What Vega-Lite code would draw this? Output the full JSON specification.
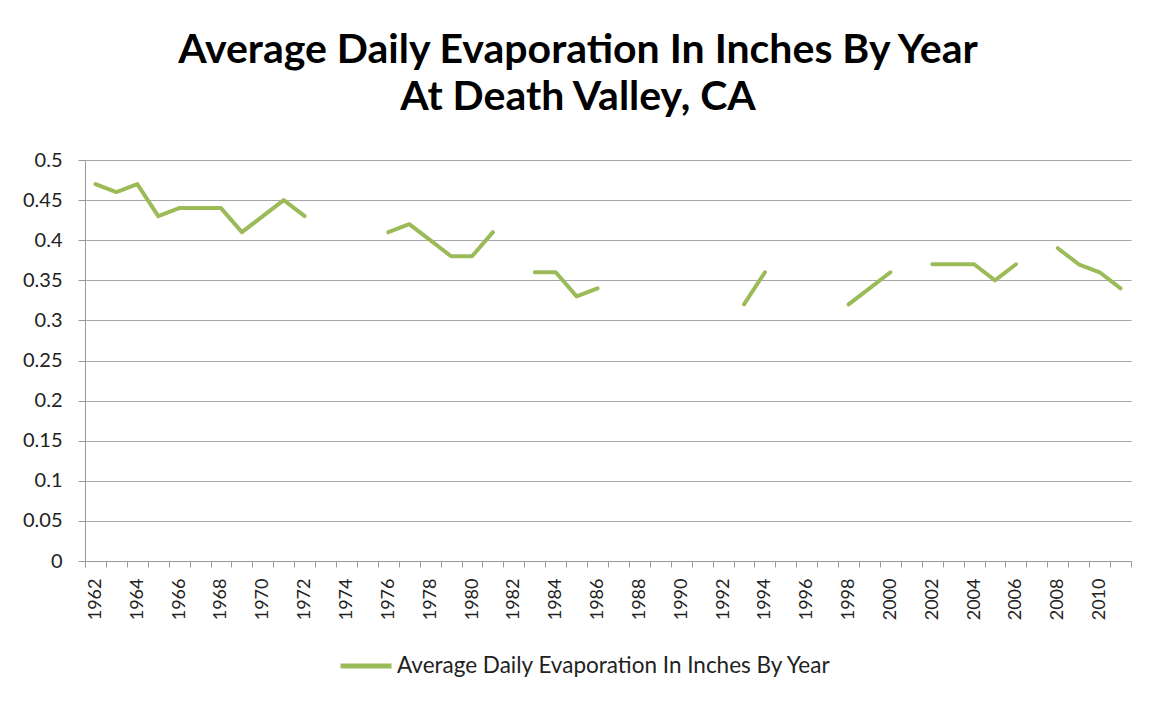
{
  "$schema": "https://vega.github.io/schema/vega-lite/v6.json",
  "autosize": "none",
  "width": 1046,
  "height": 401,
  "padding": {"left": 85, "top": 160, "right": 20, "bottom": 141},
  "background": "white",
  "title": {
    "text": ["Average Daily Evaporation In Inches By Year", "At Death Valley, CA"],
    "font": "Lato",
    "fontWeight": "bold",
    "fontSize": 41,
    "lineHeight": 47,
    "color": "#000000",
    "anchor": "middle",
    "dx": -30,
    "offset": 31
  },
  "data": {
    "values": [
      {"year": 1962, "evap": 0.47}, {"year": 1963, "evap": 0.46}, {"year": 1964, "evap": 0.47},
      {"year": 1965, "evap": 0.43}, {"year": 1966, "evap": 0.44}, {"year": 1967, "evap": 0.44},
      {"year": 1968, "evap": 0.44}, {"year": 1969, "evap": 0.41}, {"year": 1970, "evap": 0.43},
      {"year": 1971, "evap": 0.45}, {"year": 1972, "evap": 0.43}, {"year": 1973, "evap": null},
      {"year": 1974, "evap": null}, {"year": 1975, "evap": null}, {"year": 1976, "evap": 0.41},
      {"year": 1977, "evap": 0.42}, {"year": 1978, "evap": 0.40}, {"year": 1979, "evap": 0.38},
      {"year": 1980, "evap": 0.38}, {"year": 1981, "evap": 0.41}, {"year": 1982, "evap": null},
      {"year": 1983, "evap": 0.36}, {"year": 1984, "evap": 0.36}, {"year": 1985, "evap": 0.33},
      {"year": 1986, "evap": 0.34}, {"year": 1987, "evap": null}, {"year": 1988, "evap": null},
      {"year": 1989, "evap": null}, {"year": 1990, "evap": null}, {"year": 1991, "evap": null},
      {"year": 1992, "evap": null}, {"year": 1993, "evap": 0.32}, {"year": 1994, "evap": 0.36},
      {"year": 1995, "evap": null}, {"year": 1996, "evap": null}, {"year": 1997, "evap": null},
      {"year": 1998, "evap": 0.32}, {"year": 1999, "evap": 0.34}, {"year": 2000, "evap": 0.36},
      {"year": 2001, "evap": null}, {"year": 2002, "evap": 0.37}, {"year": 2003, "evap": 0.37},
      {"year": 2004, "evap": 0.37}, {"year": 2005, "evap": 0.35}, {"year": 2006, "evap": 0.37},
      {"year": 2007, "evap": null}, {"year": 2008, "evap": 0.39}, {"year": 2009, "evap": 0.37},
      {"year": 2010, "evap": 0.36}, {"year": 2011, "evap": 0.34}
    ]
  },
  "mark": {"type": "line", "strokeWidth": 4, "strokeCap": "round", "strokeJoin": "round", "invalid": "break-paths-show-domains"},
  "encoding": {
    "x": {
      "field": "year",
      "type": "ordinal",
      "bandPosition": 0.5,
      "scale": {"type": "band", "paddingInner": 0, "paddingOuter": 0},
      "axis": {
        "title": null,
        "labelAngle": -90,
        "labelAlign": "right",
        "labelBaseline": "middle",
        "labelExpr": "datum.value % 2 == 0 ? datum.label : ''",
        "labelOverlap": false,
        "labelFont": "Lato",
        "labelFontSize": 18,
        "labelColor": "#222222",
        "labelPadding": 11,
        "tickBand": "extent",
        "tickSize": 6,
        "tickColor": "#999999",
        "domainColor": "#999999",
        "grid": false
      }
    },
    "y": {
      "field": "evap",
      "type": "quantitative",
      "scale": {"domain": [0, 0.5], "nice": false},
      "axis": {
        "title": null,
        "values": [0, 0.05, 0.1, 0.15, 0.2, 0.25, 0.3, 0.35, 0.4, 0.45, 0.5],
        "format": ".2~f",
        "labelFont": "Lato",
        "labelFontSize": 20,
        "labelColor": "#222222",
        "labelPadding": 16,
        "tickSize": 7,
        "tickColor": "#999999",
        "domainColor": "#999999",
        "gridColor": "#a6a6a6",
        "gridWidth": 1
      }
    },
    "color": {
      "datum": "Average Daily Evaporation In Inches By Year",
      "type": "nominal",
      "scale": {"range": ["#9bbb59"]},
      "legend": {
        "title": null,
        "orient": "none",
        "legendX": 253,
        "legendY": 478,
        "padding": 0,
        "symbolType": "stroke",
        "symbolSize": 2600,
        "symbolStrokeWidth": 5,
        "labelFont": "Lato",
        "labelFontSize": 22.5,
        "labelColor": "#222222",
        "labelOffset": 3,
        "labelLimit": 700
      }
    }
  },
  "config": {
    "view": {"stroke": null}
  }
}
